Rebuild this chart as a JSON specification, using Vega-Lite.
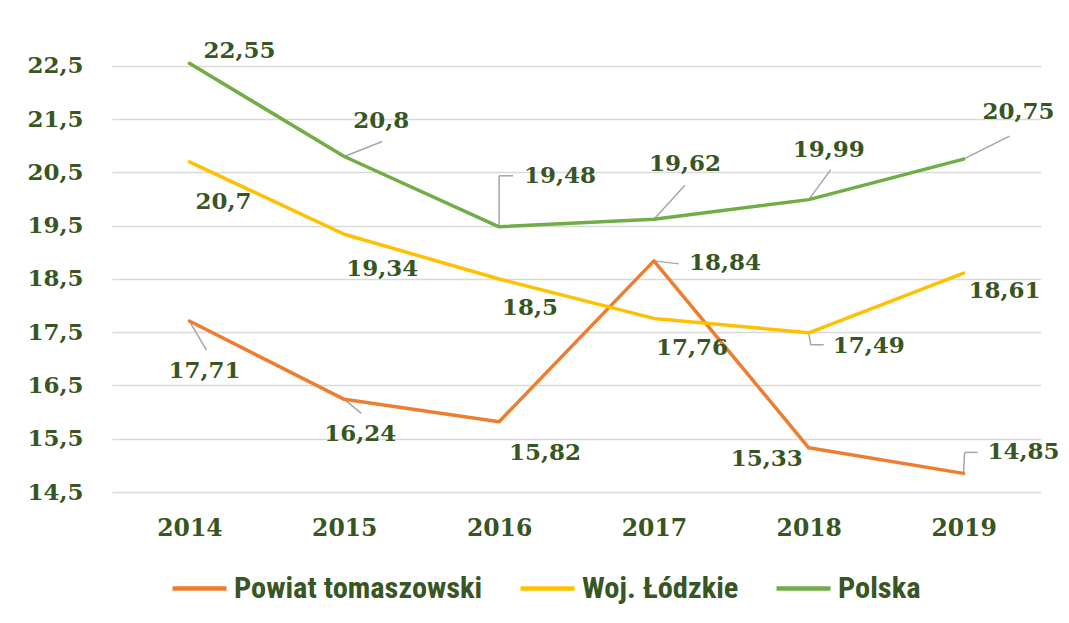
{
  "$schema": "https://vega.github.io/schema/vega-lite/v6.json",
  "width": 929,
  "height": 458,
  "autosize": "none",
  "padding": {"left": 112, "top": 34, "right": 28, "bottom": 131},
  "background": "white",
  "params": [
    {"name": "lab", "value": {
      "Polska": {"2014": [50, -12], "2015": [37, -35], "2016": [61, -51], "2017": [31, -55], "2018": [20, -50], "2019": [55, -47]},
      "Woj. Łódzkie": {"2014": [34, 40], "2015": [38, 35], "2016": [31, 29], "2017": [38, 30], "2018": [60, 13], "2019": [41, 18]},
      "Powiat tomaszowski": {"2014": [15, 50], "2015": [16, 35], "2016": [46, 31], "2017": [71, 2], "2018": [-42, 11], "2019": [60, -21]}
    }},
    {"name": "lead1", "value": {
      "Polska": {"2015": [0, 0, 38, -15], "2016": [0, 0, 0, -51], "2017": [0, 0, 31, -34], "2018": [0, 0, 22, -30], "2019": [0, 0, 46, -23]},
      "Woj. Łódzkie": {"2014": [0, 0, 18, 9], "2015": [0, 0, 39, 12], "2018": [0, 0, 2, 12]},
      "Powiat tomaszowski": {"2014": [0, 0, 17, 29], "2015": [0, 0, 17, 14], "2017": [0, 0, 25, 3], "2019": [0, 0, 1, -21]}
    }},
    {"name": "lead2", "value": {
      "Polska": {"2016": [0, -51, 14, -51]},
      "Woj. Łódzkie": {"2018": [2, 12, 15, 12]},
      "Powiat tomaszowski": {"2019": [1, -21, 14, -21]}
    }}
  ],
  "data": {"values": [
    {"series": "Powiat tomaszowski", "year": "2014", "value": 17.71},
    {"series": "Powiat tomaszowski", "year": "2015", "value": 16.24},
    {"series": "Powiat tomaszowski", "year": "2016", "value": 15.82},
    {"series": "Powiat tomaszowski", "year": "2017", "value": 18.84},
    {"series": "Powiat tomaszowski", "year": "2018", "value": 15.33},
    {"series": "Powiat tomaszowski", "year": "2019", "value": 14.85},
    {"series": "Woj. Łódzkie", "year": "2014", "value": 20.7},
    {"series": "Woj. Łódzkie", "year": "2015", "value": 19.34},
    {"series": "Woj. Łódzkie", "year": "2016", "value": 18.5},
    {"series": "Woj. Łódzkie", "year": "2017", "value": 17.76},
    {"series": "Woj. Łódzkie", "year": "2018", "value": 17.49},
    {"series": "Woj. Łódzkie", "year": "2019", "value": 18.61},
    {"series": "Polska", "year": "2014", "value": 22.55},
    {"series": "Polska", "year": "2015", "value": 20.8},
    {"series": "Polska", "year": "2016", "value": 19.48},
    {"series": "Polska", "year": "2017", "value": 19.62},
    {"series": "Polska", "year": "2018", "value": 19.99},
    {"series": "Polska", "year": "2019", "value": 20.75}
  ]},
  "encoding": {
    "x": {
      "field": "year", "type": "ordinal",
      "scale": {"type": "point", "padding": 0.5},
      "axis": {"title": null, "domain": false, "ticks": false, "grid": false, "labelAngle": 0,
        "labelPadding": 24, "labelFont": "DejaVu Serif", "labelFontWeight": "bold", "labelFontSize": 23.5, "labelColor": "#375623"}
    },
    "y": {
      "field": "value", "type": "quantitative",
      "scale": {"domain": [14.5, 23.1], "nice": false, "zero": false},
      "axis": {"title": null, "domain": false, "ticks": false, "tickSize": 0, "grid": true, "gridColor": "#d9d9d9", "gridWidth": 1.5,
        "values": [14.5, 15.5, 16.5, 17.5, 18.5, 19.5, 20.5, 21.5, 22.5],
        "labelExpr": "replace(format(datum.value, '.1f'), '.', ',')",
        "labelPadding": 29, "labelFont": "DejaVu Serif", "labelFontWeight": "bold", "labelFontSize": 23, "labelColor": "#375623"}
    }
  },
  "layer": [
    {
      "transform": [{"filter": "lead1[datum.series] && lead1[datum.series][datum.year]"}],
      "mark": {"type": "rule", "color": "#a6a6a6", "strokeWidth": 1.5,
        "xOffset": {"expr": "lead1[datum.series][datum.year][0]"},
        "yOffset": {"expr": "lead1[datum.series][datum.year][1]"},
        "x2Offset": {"expr": "lead1[datum.series][datum.year][2]"},
        "y2Offset": {"expr": "lead1[datum.series][datum.year][3]"}},
      "encoding": {"x2": {"field": "year"}, "y2": {"field": "value"}}
    },
    {
      "transform": [{"filter": "lead2[datum.series] && lead2[datum.series][datum.year]"}],
      "mark": {"type": "rule", "color": "#a6a6a6", "strokeWidth": 1.5,
        "xOffset": {"expr": "lead2[datum.series][datum.year][0]"},
        "yOffset": {"expr": "lead2[datum.series][datum.year][1]"},
        "x2Offset": {"expr": "lead2[datum.series][datum.year][2]"},
        "y2Offset": {"expr": "lead2[datum.series][datum.year][3]"}},
      "encoding": {"x2": {"field": "year"}, "y2": {"field": "value"}}
    },
    {
      "mark": {"type": "line", "strokeWidth": 3.5, "strokeJoin": "round", "strokeCap": "round"},
      "encoding": {
        "color": {
          "field": "series", "type": "nominal", "sort": ["Powiat tomaszowski", "Woj. Łódzkie", "Polska"],
          "scale": {"domain": ["Powiat tomaszowski", "Woj. Łódzkie", "Polska"], "range": ["#ED7D31", "#FFC000", "#70AD47"]},
          "legend": {"orient": "none", "legendX": 58, "legendY": 525, "direction": "horizontal", "title": null,
            "symbolType": "stroke", "symbolSize": 2916, "symbolStrokeWidth": 4.5,
            "labelFont": "Liberation Sans Narrow, Roboto Condensed, sans-serif", "labelFontSize": 30.4, "labelFontWeight": "bold",
            "labelColor": "#375623", "labelOffset": 5, "columnPadding": 28, "padding": 0, "labelLimit": 500}
        },
        "detail": {"field": "series"}
      }
    },
    {
      "mark": {"type": "text", "font": "DejaVu Serif", "fontWeight": "bold", "fontSize": 23, "color": "#375623",
        "align": "center", "baseline": "middle",
        "dx": {"expr": "lab[datum.series][datum.year][0]"},
        "dy": {"expr": "lab[datum.series][datum.year][1]"},
        "text": {"expr": "replace(format(datum.value, '~g'), '.', ',')"}}
    }
  ],
  "config": {"view": {"stroke": null}}
}
